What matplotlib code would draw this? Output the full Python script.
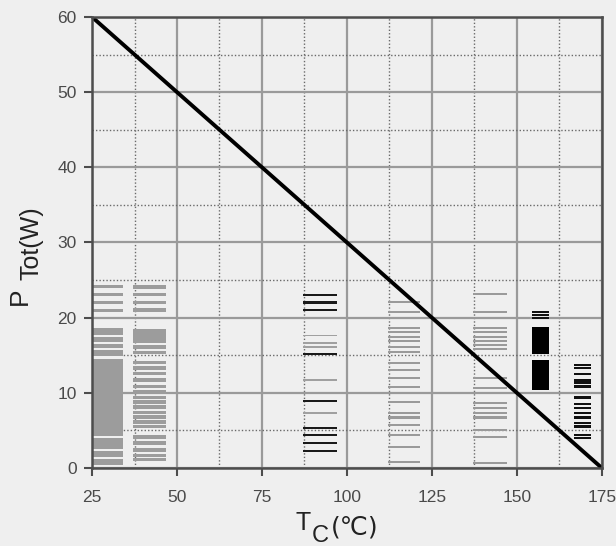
import numpy as np
import matplotlib.pyplot as plt
from matplotlib.ticker import MultipleLocator

plt.rcParams['font.family'] = ['Liberation Sans', 'DejaVu Sans']

# derating curve
tc = [25, 175]
ptot = [60, 0]

xticks = [25, 50, 75, 100, 125, 150, 175]
yticks = [0, 10, 20, 30, 40, 50, 60]

# scan noise: stripes per column (x from, x to, P levels)
colA_x = (25, 34)
colA_block = (0.4, 18.6)
colA_gaps = [17.6, 16.6, 15.8, 14.7, 4.1, 2.4, 1.3]
colA_top = [24.1, 23.1, 22.0, 21.0]

colB_x = (37, 46.8)
colB_lines = [24.1, 23.1, 22.0, 21.0, 18.2, 17.8, 17.3, 16.8, 16.1, 15.4, 14.0,
              13.3, 12.6, 11.7, 10.8, 10.1, 9.4, 8.8, 8.1, 7.4, 6.8, 6.1,
              5.5, 4.1, 3.3, 2.4, 1.7, 1.1]

colC_x = (87, 97)
colC_gray = [17.6, 16.6, 16.1, 11.7, 7.3]
colC_black = [23.0, 22.0, 21.0, 15.2, 8.9, 5.3, 4.4, 3.3, 2.3]

colD_x = (112, 121.5)
colD_lines = [22.1, 20.8, 18.6, 18.1, 17.4, 16.9, 16.1, 15.4, 14.0, 13.0,
              12.0, 10.8, 8.8, 7.3, 6.7, 5.7, 4.4, 2.8, 0.8]

colE_x = (137, 147)
colE_lines = [23.1, 20.8, 18.6, 18.1, 17.4, 16.9, 16.4, 15.8, 12.0, 10.6,
              8.6, 8.0, 7.3, 6.7, 5.1, 4.1, 0.7]

colF_x = (154.4, 159.4)
colF_blocks = [(15.2, 18.8), (10.4, 14.4)]
colF_lines = [20.8, 20.4, 20.0]

colG_x = (166.8, 171.8)
colG_lines = [13.7, 13.3, 12.5, 11.6, 11.3, 10.8, 9.4, 8.5, 8.0, 7.3,
              6.7, 6.0, 5.5, 4.4, 4.0]

bg = '#efefef'
W, H = 616, 546
fig = plt.figure(figsize=(6.16, 5.46), dpi=100, facecolor=bg)
ax = fig.add_axes([0.1494, 0.1429, 0.8276, 0.826], facecolor=bg)

ax.set_xlim(25, 175)
ax.set_ylim(0, 60)

# grid
ax.xaxis.set_major_locator(MultipleLocator(25))
ax.xaxis.set_minor_locator(MultipleLocator(12.5))
ax.yaxis.set_major_locator(MultipleLocator(10))
ax.yaxis.set_minor_locator(MultipleLocator(5))
ax.grid(True, which='major', color='#9a9a9a', lw=1.6)
ax.grid(True, which='minor', color='#6a6a6a', lw=1.0, ls=(0, (1, 1.5)))
ax.set_axisbelow(True)

# noise stripes
def stripes(xr, levels, color, h=0.35):
    ax.barh(levels, xr[1] - xr[0], left=xr[0], height=h, color=color, lw=0)

ax.barh([(colA_block[0] + colA_block[1]) / 2], colA_x[1] - colA_x[0], left=colA_x[0],
        height=colA_block[1] - colA_block[0], color='#9c9c9c', lw=0)
stripes(colA_x, colA_gaps, bg, 0.3)
stripes(colA_x, colA_top, '#9c9c9c', 0.4)
stripes(colB_x, colB_lines, '#9c9c9c', 0.45)
stripes(colC_x, colC_gray, '#a0a0a0', 0.2)
stripes(colC_x, colC_black, '#1a1a1a', 0.3)
stripes(colD_x, colD_lines, '#9a9a9a', 0.3)
stripes(colE_x, colE_lines, '#9a9a9a', 0.3)
for b in colF_blocks:
    ax.barh([(b[0] + b[1]) / 2], colF_x[1] - colF_x[0], left=colF_x[0],
            height=b[1] - b[0], color='black', lw=0)
stripes(colF_x, colF_lines, '#111111', 0.3)
stripes(colG_x, colG_lines, '#111111', 0.35)

ax.plot(tc, ptot, color='black', lw=2.8, solid_capstyle='round')

for s in ax.spines.values():
    s.set_color('#4d4d4d')
    s.set_linewidth(1.8)

ax.set_xticks(xticks)
ax.set_yticks(yticks)
ax.tick_params(axis='both', which='major', direction='out', length=6, width=1.5,
               color='#4d4d4d', labelsize=12.5, labelcolor='#4a4a4a')
ax.tick_params(axis='x', which='major', pad=10)
ax.tick_params(axis='y', which='major', pad=5)
ax.tick_params(which='minor', length=0)

# axis titles built from pieces (subscripts at near full size, as in the scan)
lab = dict(color='#222222', family=['Liberation Sans', 'DejaVu Sans'])
fig.text(295 / W, 1 - 530 / H, 'T', fontsize=18, ha='left', va='baseline', **lab)
fig.text(312 / W, 1 - 542 / H, 'C', fontsize=17, ha='left', va='baseline', **lab)
fig.text(331 / W, 1 - 534 / H, '(℃)', fontsize=18, ha='left', va='baseline',
         color='#222222', family=['DejaVu Sans'])

fig.text(20 / W, 1 - 296 / H, 'P', fontsize=19, rotation=90, ha='center', va='center', **lab)
fig.text(32 / W, 1 - 243 / H, 'Tot(W)', fontsize=18, rotation=90, ha='center', va='center', **lab)

fig.savefig('out.png', dpi=100, facecolor=bg)
